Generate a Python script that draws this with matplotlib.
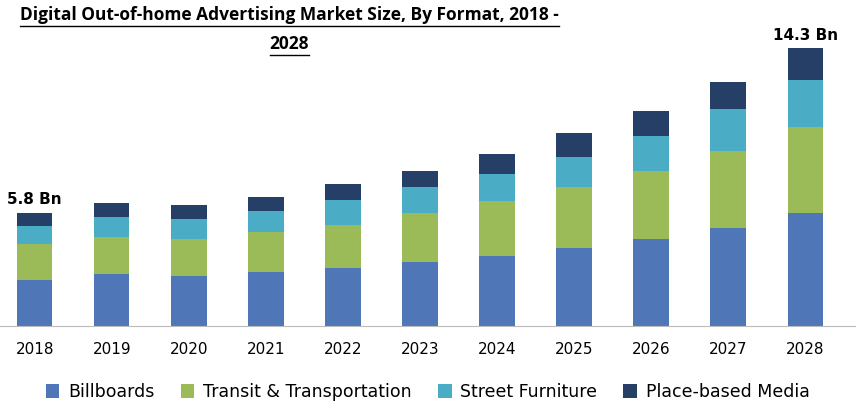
import matplotlib
matplotlib.use("Agg")
from matplotlib import pyplot as plt
import numpy as np

years = ["2018", "2019", "2020", "2021", "2022", "2023", "2024", "2025", "2026", "2027", "2028"]
billboards = [2.35, 2.66, 2.56, 2.77, 2.97, 3.29, 3.60, 4.02, 4.49, 5.06, 5.79]
transit = [1.85, 1.93, 1.93, 2.04, 2.24, 2.51, 2.82, 3.13, 3.50, 3.97, 4.44]
street = [0.92, 1.04, 1.04, 1.10, 1.25, 1.36, 1.41, 1.57, 1.77, 2.14, 2.45]
place = [0.68, 0.68, 0.68, 0.73, 0.84, 0.84, 1.04, 1.20, 1.30, 1.41, 1.62]
names = ["Billboards", "Transit & Transportation", "Street Furniture", "Place-based Media"]
colors = ["#4f77b8", "#9bbb59", "#4bacc6", "#253f66"]

fig, ax = plt.subplots(figsize=(8.64, 4.15), dpi=100)
fig.subplots_adjust(left=0.0, right=0.99, top=0.93, bottom=0.215)
x = np.arange(len(years))
bottom = np.zeros(len(years))
for vals, name, c in zip([billboards, transit, street, place], names, colors):
    ax.bar(x, vals, 0.46, bottom=bottom, color=c, label=name)
    bottom += np.array(vals)

ax.text(x[0], bottom[0] + 0.3, "5.8 Bn", ha="center", va="bottom", fontsize=11, fontweight="bold")
ax.text(x[-1], bottom[-1] + 0.3, "14.3 Bn", ha="center", va="bottom", fontsize=11, fontweight="bold")

ax.set_xticks(x)
ax.set_xticklabels(years, fontsize=11)
ax.set_yticks([])
ax.set_xlim(-0.45, len(years) - 0.35)
ax.set_ylim(0, 15.3)
for s in ["top", "left", "right"]:
    ax.spines[s].set_visible(False)
ax.spines["bottom"].set_color("#bbbbbb")
ax.tick_params(axis="x", length=0, pad=12)

t1 = fig.text(0.335, 0.985, "Digital Out-of-home Advertising Market Size, By Format, 2018 -",
              ha="center", va="top", fontsize=12.5, fontweight="bold", fontfamily="Open Sans")
t2 = fig.text(0.335, 0.915, "2028",
              ha="center", va="top", fontsize=12.5, fontweight="bold", fontfamily="Open Sans")
fig.canvas.draw()
r = fig.canvas.get_renderer()
for t in (t1, t2):
    bb = t.get_window_extent(r).transformed(fig.transFigure.inverted())
    fig.add_artist(plt.Line2D([bb.x0, bb.x1], [bb.y0 - 0.004, bb.y0 - 0.004], color="black", lw=1))

ax.legend(loc="upper center", bbox_to_anchor=(0.5, -0.14), ncol=4, frameon=False,
          fontsize=12.5, handlelength=0.8, handleheight=0.8, columnspacing=1.5, handletextpad=0.5)

fig.savefig("out.png")
